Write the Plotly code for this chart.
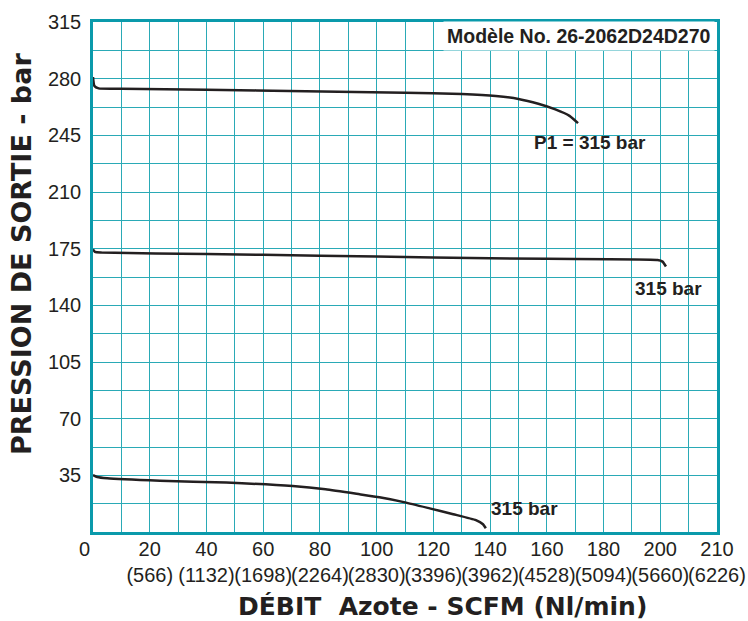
import plotly.graph_objects as go

# ---- data ----
top_x = [0, 0.5, 2, 10, 40, 75, 110, 130, 142, 150, 157, 163, 168, 171]
top_y = [281, 275.5, 274, 273.8, 273.2, 272.3, 271.3, 270.5, 269.3, 267.5, 264.5, 261, 257, 252.5]

mid_x = [0, 0.7, 3, 40, 80, 120, 160, 199, 200.8, 202]
mid_y = [174.6, 173, 172.6, 171.7, 170.7, 169.6, 168.7, 168, 167, 164]

bot_x = [0, 1.5, 5, 23.6, 47, 70.4, 82, 94, 101, 110, 118.7, 127, 135, 137.5, 138.5]
bot_y = [35.2, 34, 33.2, 31.7, 30.5, 28.4, 26.4, 23.3, 21.4, 18.3, 14.6, 11, 7.3, 4.8, 2.3]

x_tick_vals = [0, 20, 40, 60, 80, 100, 120, 140, 160, 180, 200, 220]
x_tick_main = ["0", "20", "40", "60", "80", "100", "120", "140", "160", "180", "200", "210"]
x_tick_sub = ["", "(566)", "(1132)", "(1698)", "(2264)", "(2830)", "(3396)",
              "(3962)", "(4528)", "(5094)", "(5660)", "(6226)"]
y_tick_vals = [35, 70, 105, 140, 175, 210, 245, 280, 315]

INK = "#231f20"
GRID = "#2aaab6"
BORDER = "#0a9aab"

x_tick_text = []
for m, s in zip(x_tick_main, x_tick_sub):
    if s:
        x_tick_text.append(f"{m}<br>{s}")
    else:
        x_tick_text.append(m + "\u00a0\u00a0\u00a0")

fig = go.Figure()
for xs, ys in [(top_x, top_y), (mid_x, mid_y), (bot_x, bot_y)]:
    fig.add_trace(go.Scatter(x=xs, y=ys, mode="lines",
                             line=dict(color=INK, width=2.5, shape="spline", smoothing=0.5),
                             hoverinfo="skip", showlegend=False))

fig.update_layout(
    width=748, height=621,
    margin=dict(l=93, r=31, t=22, b=89),
    paper_bgcolor="white", plot_bgcolor="white",
    font=dict(family="Liberation Sans, Arial, sans-serif", color=INK, size=20),
    showlegend=False,
)
fig.update_xaxes(
    range=[0, 220], tickmode="array", tickvals=x_tick_vals, ticktext=x_tick_text,
    tickangle=0, automargin=False, ticklabeloverflow="allow", ticklabelstandoff=-3,
    showgrid=True, gridcolor=GRID, gridwidth=1.3,
    minor=dict(tickmode="linear", tick0=0, dtick=10, showgrid=True, gridcolor=GRID, gridwidth=1.3),
    showline=True, linecolor=BORDER, linewidth=2.5, mirror=True,
    ticks="", zeroline=False, tickfont=dict(size=20, color=INK),
)
fig.update_yaxes(
    range=[0, 315], tickmode="array", tickvals=y_tick_vals, automargin=False,
    ticklabeloverflow="allow",
    showgrid=True, gridcolor=GRID, gridwidth=1.3,
    minor=dict(tickmode="linear", tick0=0, dtick=17.5, showgrid=True, gridcolor=GRID, gridwidth=1.3),
    showline=True, linecolor=BORDER, linewidth=2.5, mirror=True,
    ticks="outside", ticklen=5, tickcolor="rgba(0,0,0,0)",
    zeroline=False, tickfont=dict(size=20, color=INK),
)

bold = dict(family="Liberation Sans, Arial, sans-serif", size=19, color=INK)
fig.add_annotation(x=219.3, y=306.4, xref="x", yref="y", text="<b>Modèle No. 26-2062D24D270</b>",
                   showarrow=False, xanchor="right", yanchor="middle",
                   font=dict(family="Liberation Sans, Arial, sans-serif", size=19.5, color=INK),
                   bgcolor="white", borderpad=3)
fig.add_annotation(x=175.2, y=240.3, xref="x", yref="y", text="<b>P1 = 315 bar</b>",
                   showarrow=False, font=bold)
fig.add_annotation(x=202.8, y=150.7, xref="x", yref="y", text="<b>315 bar</b>",
                   showarrow=False, font=bold)
fig.add_annotation(x=152, y=14.8, xref="x", yref="y", text="<b>315 bar</b>",
                   showarrow=False, font=bold)

fig.add_annotation(x=(442 - 93) / 624, y=(532 - 606) / 510, xref="paper", yref="paper",
                   text="<b>DÉBIT  Azote - SCFM (Nl/min)</b>", showarrow=False,
                   xanchor="center", yanchor="middle",
                   font=dict(family="DejaVu Sans, sans-serif", size=25, color=INK))
fig.add_annotation(x=(21 - 93) / 624, y=(532 - 254) / 510, xref="paper", yref="paper",
                   text="<b>PRESSION DE SORTIE - bar</b>", showarrow=False, textangle=-90,
                   xanchor="center", yanchor="middle",
                   font=dict(family="DejaVu Sans, sans-serif", size=27, color=INK))

fig.write_html("out.html", config={"displayModeBar": False},
               post_script="document.body.style.margin='0';")
